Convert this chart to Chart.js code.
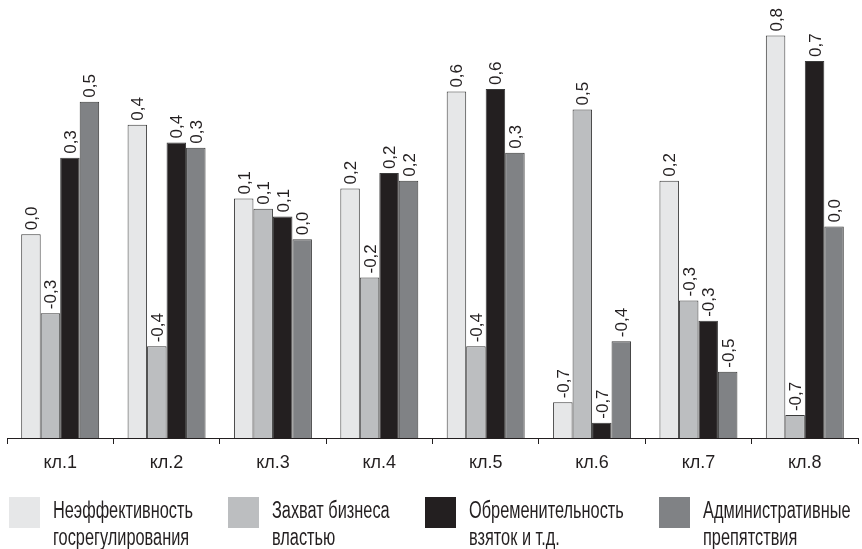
<!DOCTYPE html>
<html>
<head>
<meta charset="utf-8">
<script src="https://cdn.jsdelivr.net/npm/chart.js@4/dist/chart.umd.min.js"></script>
<style>
    html, body { margin: 0; padding: 0; background: #fff; }
    #wrap { position: relative; width: 862px; height: 549px; overflow: hidden; }
    #chart { position: absolute; left: 0; top: 0; }
    .legend-item { position: absolute; top: 497px; }
    .legend-item .box { position: absolute; left: 0; top: 0; width: 31px; height: 31px; }
    .legend-item .txt {
        position: absolute; top: 0; white-space: nowrap;
        font-family: "Liberation Sans", Arial, sans-serif;
        font-size: 23px; line-height: 27px; color: #231f20;
        transform: scaleX(0.71); transform-origin: 0 0;
    }
</style>
</head>
<body>
<div id="wrap">
    <canvas id="chart" width="862" height="549"></canvas>
    <div id="legend"></div>
</div>
<script>
// categories (clusters)
const clusters = ['кл.1', 'кл.2', 'кл.3', 'кл.4', 'кл.5', 'кл.6', 'кл.7', 'кл.8'];

// series
const inefficiency = [0.00, 0.43, 0.14, 0.18, 0.56, -0.66, 0.21, 0.78];
const stateCapture = [-0.31, -0.44, 0.10, -0.17, -0.44, 0.49, -0.26, -0.71];
const briberyBurden = [0.30, 0.36, 0.07, 0.24, 0.57, -0.74, -0.34, 0.68];
const adminBarriers = [0.52, 0.34, -0.02, 0.21, 0.32, -0.42, -0.54, 0.03];

const seriesNames = [
    ['Неэффективность', 'госрегулирования'],
    ['Захват бизнеса', 'властью'],
    ['Обременительность', 'взяток и т.д.'],
    ['Административные', 'препятствия']
];
const seriesColors = ['#e6e7e8', '#bcbec0', '#231f20', '#808285'];

const yMin = -0.8;
const yMax = 0.9;

function fmt(v) {
    return (Math.round(v * 10) / 10).toFixed(1).replace('.', ',');
}

// vertical value labels above each bar
const barLabels = {
    id: 'barLabels',
    afterDatasetsDraw(chart) {
        const ctx = chart.ctx;
        ctx.save();
        ctx.font = '17px "Liberation Sans", Arial, sans-serif';
        ctx.fillStyle = '#231f20';
        ctx.textAlign = 'left';
        ctx.textBaseline = 'alphabetic';
        chart.data.datasets.forEach((ds, i) => {
            chart.getDatasetMeta(i).data.forEach((bar, j) => {
                ctx.save();
                ctx.translate(bar.x + 6, bar.y - 4);
                ctx.rotate(-Math.PI / 2);
                ctx.fillText(fmt(ds.data[j]), 0, 0);
                ctx.restore();
            });
        });
        ctx.restore();
    }
};

const allSeries = [inefficiency, stateCapture, briberyBurden, adminBarriers];

const datasets = allSeries.map((values, i) => ({
    label: seriesNames[i].join(' '),
    data: values,
    base: yMin,
    backgroundColor: seriesColors[i],
    borderColor: '#3a3a3a',
    borderWidth: 1,
    categoryPercentage: 0.733,
    barPercentage: 1.0
}));

new Chart(document.getElementById('chart'), {
    type: 'bar',
    data: { labels: clusters, datasets: datasets },
    options: {
        responsive: false,
        animation: false,
        devicePixelRatio: 1,
        layout: { padding: { left: 7, right: 4, top: 5, bottom: 0 } },
        plugins: {
            legend: { display: false },
            tooltip: { enabled: false }
        },
        scales: {
            x: {
                grid: {
                    offset: true,
                    drawOnChartArea: false,
                    drawTicks: true,
                    tickLength: 6,
                    color: '#231f20',
                    lineWidth: 1
                },
                border: { display: true, color: '#231f20', width: 1 },
                ticks: {
                    color: '#231f20',
                    padding: 8,
                    maxRotation: 0,
                    font: { family: '"Liberation Sans", Arial, sans-serif', size: 18 }
                },
                afterFit: function (scale) {
                    scale.height = 111;
                }
            },
            y: {
                display: false,
                min: yMin,
                max: yMax
            }
        }
    },
    plugins: [barLabels]
});

// legend below the chart
const legendLeft = [9, 228, 425, 659];
const legend = document.getElementById('legend');
seriesNames.forEach((lines, i) => {
    const item = document.createElement('div');
    item.className = 'legend-item';
    item.style.left = legendLeft[i] + 'px';
    const box = document.createElement('div');
    box.className = 'box';
    box.style.background = seriesColors[i];
    const txt = document.createElement('div');
    txt.className = 'txt';
    txt.style.left = '44px';
    txt.innerHTML = lines.join('<br>');
    item.appendChild(box);
    item.appendChild(txt);
    legend.appendChild(item);
});
</script>
</body>
</html>
